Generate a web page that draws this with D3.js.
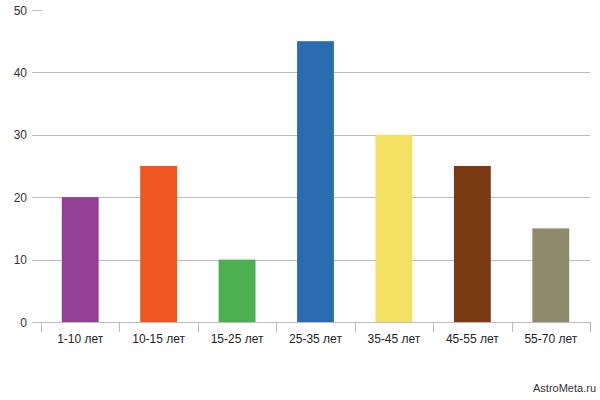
<!DOCTYPE html>
<html><head><meta charset="utf-8">
<script src="https://cdn.jsdelivr.net/npm/d3@7"></script>
<style>body{margin:0;background:#fff}svg{display:block;font-family:Arial,"Liberation Sans",sans-serif}</style>
</head><body>
<script>
const categories = ["1-10 лет","10-15 лет","15-25 лет","25-35 лет","35-45 лет","45-55 лет","55-70 лет"];
const values = [20,25,10,45,30,25,15];
const colors = ["#923f95","#f0561f","#4caf50","#2a6cb0","#f2e062","#7a3a12","#8f8a6a"];
const yTicks = [0,10,20,30,40,50];

const W=600,H=400;
const svg=d3.select("body").append("svg").attr("width",W).attr("height",H);
const x=d3.scaleBand().domain(categories).range([41,590]).padding(0);
const y=d3.scaleLinear().domain([0,50]).range([322,10]);

// gridlines
svg.append("g").selectAll("line").data(yTicks).join("line")
  .attr("x1",32).attr("x2",d=>d===50?42:590)
  .attr("y1",d=>Math.round(y(d))+0.5).attr("y2",d=>Math.round(y(d))+0.5)
  .attr("stroke","#bcbcbc").attr("stroke-width",1);
svg.append("g").selectAll("text").data(yTicks).join("text")
  .attr("x",27).attr("y",d=>y(d)+4.5).attr("text-anchor","end")
  .attr("font-size",12).attr("fill","#333").text(d=>d);

// bars
const bw=x.bandwidth()*0.47;
svg.append("g").selectAll("rect").data(values).join("rect")
  .attr("x",(d,i)=>x(categories[i])+x.bandwidth()/2-bw/2)
  .attr("width",bw)
  .attr("y",d=>y(d)).attr("height",d=>y(0)-y(d))
  .attr("fill",(d,i)=>colors[i]);

// x axis
const ticksX=categories.map(c=>x(c)).concat([x(categories[categories.length-1])+x.bandwidth()]);
svg.append("g").selectAll("line").data(ticksX).join("line")
  .attr("x1",d=>Math.round(d)+0.5).attr("x2",d=>Math.round(d)+0.5)
  .attr("y1",322).attr("y2",332).attr("stroke","#bcbcbc");
svg.append("g").selectAll("text").data(categories).join("text")
  .attr("x",d=>x(d)+x.bandwidth()/2).attr("y",343).attr("text-anchor","middle")
  .attr("font-size",12).attr("fill","#222").text(d=>d);

svg.append("text").attr("x",596).attr("y",392).attr("text-anchor","end")
  .attr("font-size",11).attr("fill","#333").text("AstroMeta.ru");
</script>
</body></html>
